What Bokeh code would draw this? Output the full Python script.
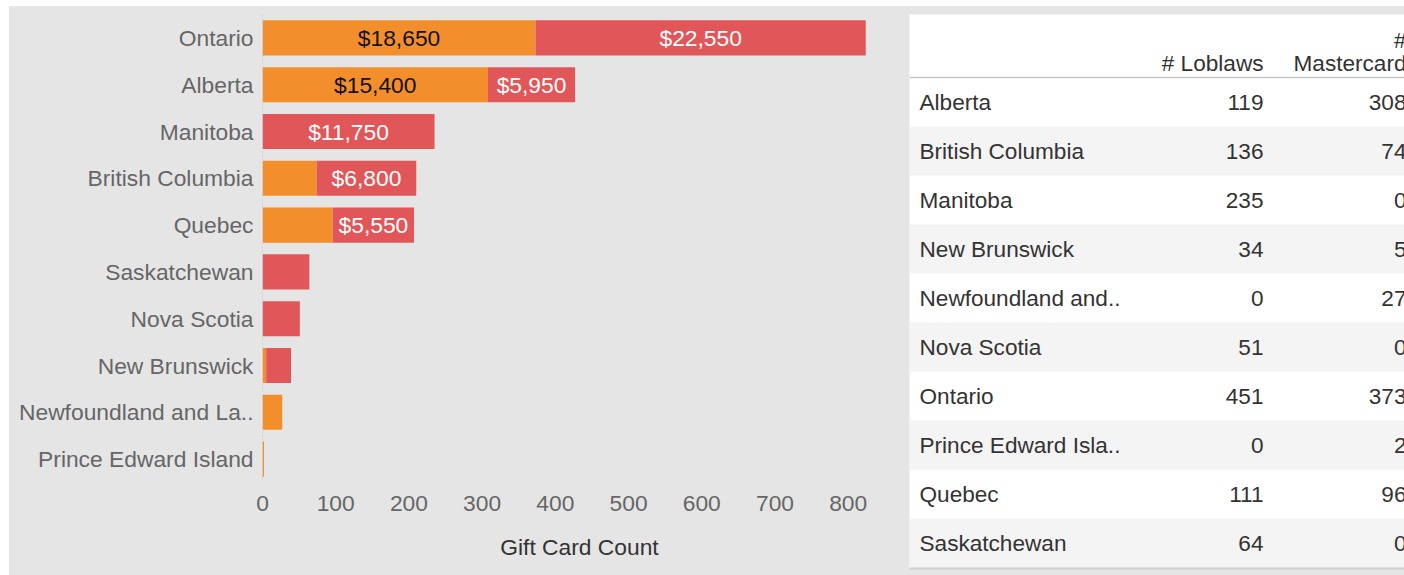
from bokeh.plotting import figure
from bokeh.models import ColumnDataSource, FactorRange, Range1d, Span, Spacer
from bokeh.layouts import row, column
from bokeh.core.properties import value
from bokeh.embed import file_html
from bokeh.resources import INLINE

# ---- data ----
provinces = ["Ontario", "Alberta", "Manitoba", "British Columbia", "Quebec",
             "Saskatchewan", "Nova Scotia", "New Brunswick",
             "Newfoundland and La..", "Prince Edward Island"]
mastercard = [373, 308, 0, 74, 96, 0, 0, 5, 27, 2]
loblaws = [451, 119, 235, 136, 111, 64, 51, 34, 0, 0]

table_names = ["Alberta", "British Columbia", "Manitoba", "New Brunswick",
               "Newfoundland and..", "Nova Scotia", "Ontario",
               "Prince Edward Isla..", "Quebec", "Saskatchewan"]
table_loblaws = [119, 136, 235, 34, 0, 51, 451, 0, 111, 64]
table_mastercard = [308, 74, 0, 5, 27, 0, 373, 2, 96, 0]

x_ticks = [0, 100, 200, 300, 400, 500, 600, 700, 800]
card_value = 50      # dollars per gift card
label_min = 100      # only label segments at least this long

FONT = "Liberation Sans"
FS = "22.8px"
BG = "#e5e5e5"
ORANGE = "#F28E2B"
RED = "#E15759"

# ---- bar chart ----
totals = [m + l for m, l in zip(mastercard, loblaws)]
src = ColumnDataSource(dict(prov=provinces, mc=mastercard, lb=loblaws, total=totals))

p = figure(width=891, height=569,
           y_range=FactorRange(factors=provinces[::-1], range_padding=0),
           x_range=Range1d(0, 866),
           output_backend="svg", toolbar_location=None,
           min_border_left=253, min_border_right=4,
           min_border_top=8, min_border_bottom=93)
p.frame_align = False
p.background_fill_color = BG
p.border_fill_color = BG
p.outline_line_color = None
p.xgrid.visible = False
p.ygrid.visible = False

p.add_layout(Span(location=0, dimension="height", line_color="#bdbdbd",
                  line_dash="2 2", line_width=1))

p.hbar(y="prov", left=0, right="mc", height=0.75, source=src,
       fill_color=ORANGE, line_color=None)
p.hbar(y="prov", left="mc", right="total", height=0.75, source=src,
       fill_color=RED, line_color=None)

lx, ly, lt, lc = [], [], [], []
for prov, m, l in zip(provinces, mastercard, loblaws):
    if m >= label_min:
        lx.append(m / 2); ly.append(prov)
        lt.append("$" + format(m * card_value, ",")); lc.append("#111111")
    if l >= label_min:
        lx.append(m + l / 2); ly.append(prov)
        lt.append("$" + format(l * card_value, ",")); lc.append("#ffffff")
lsrc = ColumnDataSource(dict(x=lx, y=ly, text=lt, color=lc))
p.text(x="x", y="y", text="text", text_color="color", source=lsrc,
       text_align="center", text_baseline="middle",
       text_font=value(FONT), text_font_size=FS)

p.xaxis.ticker = x_ticks
p.xaxis.axis_label = "Gift Card Count"
for ax in (p.xaxis, p.yaxis):
    ax.axis_line_color = None
    ax.major_tick_line_color = None
    ax.minor_tick_line_color = None
    ax.major_tick_out = 0
    ax.major_tick_in = 0
    ax.major_label_text_font = FONT
    ax.major_label_text_font_size = FS
    ax.major_label_text_color = "#666666"
p.xaxis.major_label_standoff = 13
p.yaxis.major_label_standoff = 9
p.xaxis.axis_label_text_font = FONT
p.xaxis.axis_label_text_font_size = FS
p.xaxis.axis_label_text_font_style = "normal"
p.xaxis.axis_label_text_color = "#333333"
p.xaxis.axis_label_standoff = 20

# ---- table ----
t = figure(width=504, height=569, x_range=Range1d(900, 1404), y_range=Range1d(575, 6),
           output_backend="svg", toolbar_location=None,
           x_axis_location=None, y_axis_location=None,
           min_border_left=0, min_border_right=0, min_border_top=0, min_border_bottom=0)
t.frame_align = False
t.background_fill_color = BG
t.border_fill_color = BG
t.outline_line_color = None
t.xgrid.visible = False
t.ygrid.visible = False

row_top = 77
row_h = 49
n = len(table_names)
t.quad(left=909, right=1410, top=14, bottom=row_top + row_h * n,
       fill_color="white", line_color=None)
shade_top = [row_top + row_h * i for i in range(n) if i % 2 == 1]
shade_bot = [s + row_h for s in shade_top]
t.quad(left=909, right=1410, top=shade_top, bottom=shade_bot,
       fill_color="#f4f4f4", line_color=None)
t.segment(x0=909, x1=1410, y0=row_top, y1=row_top, line_color="#c8c8c8", line_width=1.5)
t.segment(x0=909, x1=1410, y0=row_top + row_h * n + 1, y1=row_top + row_h * n + 1,
          line_color="#d0d0d0", line_width=2)

ys = [row_top + row_h * i + row_h / 2 for i in range(n)]
tsrc = ColumnDataSource(dict(y=ys, name=table_names,
                             lb=[str(v) for v in table_loblaws],
                             mc=[str(v) for v in table_mastercard]))
TFS = "22.6px"
common = dict(source=tsrc, text_baseline="middle", text_font=value(FONT),
              text_font_size=TFS, text_color="#333333")
t.text(x=919, y="y", text="name", text_align="left", **common)
t.text(x=1263, y="y", text="lb", text_align="right", **common)
t.text(x=1406, y="y", text="mc", text_align="right", **common)

hdr = dict(text_baseline="middle", text_font=value(FONT), text_font_size=TFS,
           text_color="#333333", text_align="right")
t.text(x=[1263], y=[63], text=["# Loblaws"], **hdr)
t.text(x=[1406], y=[40], text=["#"], **hdr)
t.text(x=[1406], y=[63], text=["Mastercard"], **hdr)

inner = row(p, t, styles={"background-color": BG})
layout = column(Spacer(height=6), row(Spacer(width=9), inner))
open("out.html", "w").write(file_html(layout, INLINE))
